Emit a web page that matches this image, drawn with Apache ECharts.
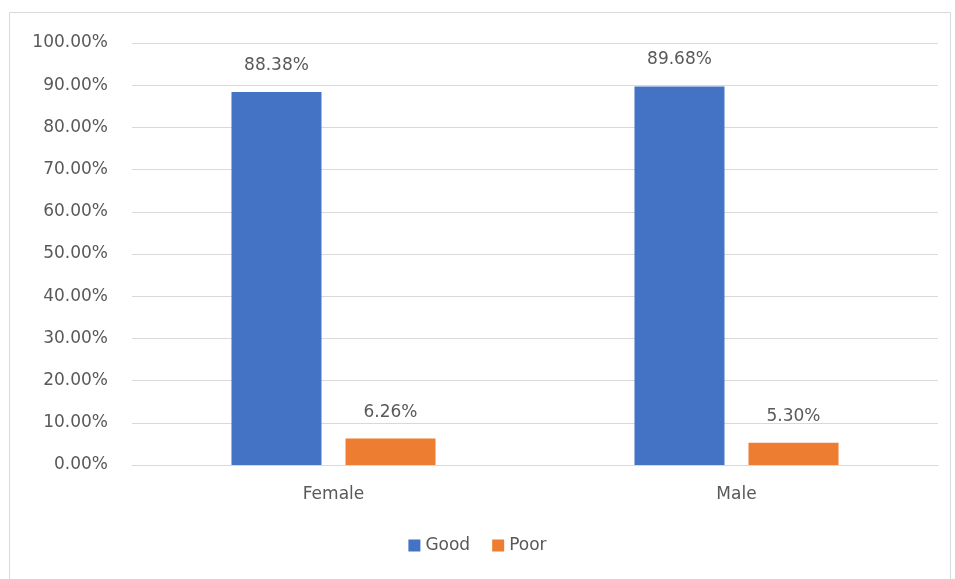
<!DOCTYPE html>
<html>
<head>
<meta charset="utf-8">
<script src="https://cdn.jsdelivr.net/npm/echarts@6/dist/echarts.min.js"></script>
<style>
  html, body { margin: 0; padding: 0; background: #fff; }
  #main { width: 955px; height: 579px; }
</style>
</head>
<body>
<div id="main"></div>
<script>
var categories = ['Female', 'Male'];
var goodValues = [88.38, 89.68];
var poorValues = [6.26, 5.30];
var seriesNames = ['Good', 'Poor'];

var textColor = '#595959';
var fontFamily = '"DejaVu Sans", sans-serif';

var labelStyle = {
    show: true,
    position: 'top',
    distance: 18,
    color: textColor,
    fontSize: 17,
    fontFamily: fontFamily,
    formatter: function (p) { return p.value.toFixed(2) + '%'; }
};

var option = {
    animation: false,
    color: ['#4472c4', '#ed7d31'],
    graphic: {
        elements: [{
            type: 'rect',
            shape: { x: 9.5, y: 12.5, width: 941, height: 576 },
            style: { fill: 'none', stroke: '#d9d9d9', lineWidth: 1 },
            silent: true
        }]
    },
    grid: {
        left: 132,
        right: 17,
        top: 43,
        bottom: 114
    },
    legend: {
        bottom: 20,
        left: 'center',
        itemWidth: 12,
        itemHeight: 12,
        itemGap: 22,
        icon: 'rect',
        textStyle: { color: textColor, fontSize: 17, fontFamily: fontFamily },
        data: seriesNames
    },
    xAxis: {
        type: 'category',
        data: categories,
        axisLine: { lineStyle: { color: '#d9d9d9' } },
        axisTick: { show: false },
        axisLabel: { color: textColor, fontSize: 17, fontFamily: fontFamily, margin: 21 }
    },
    yAxis: {
        type: 'value',
        min: 0,
        max: 100,
        interval: 10,
        axisLine: { show: false },
        axisTick: { show: false },
        splitLine: { lineStyle: { color: '#d9d9d9' } },
        axisLabel: {
            color: textColor,
            fontSize: 17,
            fontFamily: fontFamily,
            margin: 24,
            formatter: function (v) { return v.toFixed(2) + '%'; }
        }
    },
    series: [
        {
            name: seriesNames[0],
            type: 'bar',
            data: goodValues,
            barWidth: 90,
            barGap: '26.7%',
            label: labelStyle
        },
        {
            name: seriesNames[1],
            type: 'bar',
            data: poorValues,
            barWidth: 90,
            label: labelStyle
        }
    ]
};

echarts.init(document.getElementById('main')).setOption(option);
</script>
</body>
</html>
